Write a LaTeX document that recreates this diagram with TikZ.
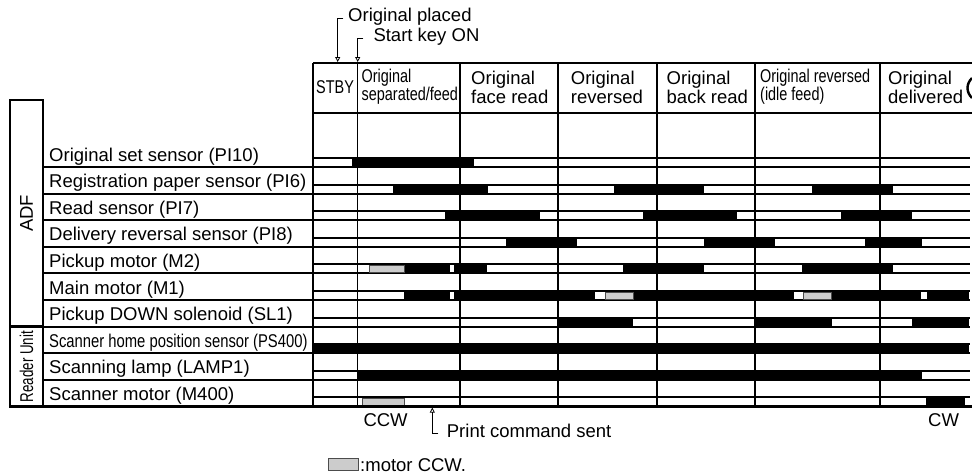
\documentclass[tikz,border=0pt]{standalone}
\usepackage{fontspec}
\setmainfont{Liberation Sans}
\newfontfamily\condfont[FakeStretch=0.78]{Liberation Sans}
\newfontfamily\condlabel[FakeStretch=0.80]{Liberation Sans}
\newfontfamily\condside[FakeStretch=0.72]{Liberation Sans}
\usetikzlibrary{arrows.meta,positioning}
\tikzset{
  frame/.style    = {line width=2.4pt},
  grid/.style     = {line width=1.2pt},
  bandline/.style = {line width=2pt},
  hi/.style       = {fill=black},
  ccw/.style      = {fill=gray!40, draw=gray!60!black, line width=0.6pt},
  lbl/.style      = {anchor=base west, inner sep=0pt, font=\fontsize{18.5}{18}\selectfont},
  hdr/.style      = {anchor=west, inner sep=0pt, align=left, font=\fontsize{18.5}{17}\selectfont},
  chdr/.style     = {hdr, font=\condfont\fontsize{18.5}{17}\selectfont},
  side/.style     = {rotate=90, inner sep=0pt, font=\fontsize{18.5}{18}\selectfont},
  note/.style     = {anchor=base west, inner sep=0pt, font=\fontsize{18.5}{18}\selectfont},
  tick/.style     = {line width=0.8pt, -{Triangle[open,length=5pt,width=5pt]}},
}
\begin{document}
\begin{tikzpicture}[x=1pt,y=-1pt]
  \useasboundingbox (0,0) rectangle (972,475);

  % column lines
  \foreach \x in {357.7,460,558,657,755,880}
    \draw[grid] (\x,63) -- (\x,406.4);

  % signal bands, one per row
  \foreach \k in {1,...,10}{
    \pgfmathsetmacro\yb{167+26.6*(\k-1)}
    \draw[bandline] (313,\yb-9) -- (970,\yb-9);
    \draw[bandline] (43,\yb) -- (970,\yb);
  }
  % ON periods
  \foreach \k/\a/\b in {1/351.7/474,
      2/392.7/487.7, 2/614/704, 2/811.7/892.7,
      3/445/540, 3/642.7/737, 3/840.7/911.7,
      4/506/576.7, 4/704/775, 4/865/922.3,
      5/404/450, 5/454/486.7, 5/623.3/704, 5/801.7/892.7,
      6/404/450, 6/454/595, 6/633.3/794, 6/831/921, 6/926.7/969,
      7/558.3/632.7, 7/755.3/831.7, 7/911.7/969,
      8/313/969, 9/357.3/921.7, 10/926/965}{
    \pgfmathsetmacro\yb{167+26.6*(\k-1)}
    \fill[hi] (\a,\yb-10) rectangle (\b,\yb+1);
  }
  % motor CCW periods
  \foreach \k/\a/\b in {5/369.3/404, 6/605/633.3, 6/803.3/831, 10/362.7/404}{
    \pgfmathsetmacro\yb{167+26.6*(\k-1)}
    \filldraw[ccw] (\a,\yb-8) rectangle (\b,\yb-1);
  }

  % frame
  \draw[frame] (313,63) -- (972,63);
  \draw[frame] (313,113) -- (972,113);
  \draw[frame] (313,63) -- (313,406.4);
  \draw[frame] (10,406.4) -- (972,406.4);
  \draw[frame] (10,100) rectangle (43,326.6);
  \draw[frame] (10,326.6) rectangle (43,406.4);
  \draw[line width=2.4pt] (972,78) .. controls (966,84) and (966,92) .. (972,98);

  % header
  \node[chdr] (hStby) at (316,87) {STBY};
  \node[chdr] (hSep)  at (361.5,87) {Original\\separated/feed};
  \node[hdr]  (hFace) at (471,87.5) {Original\\face read};
  \node[hdr]  (hRev)  at (570.7,87.5) {Original\\reversed};
  \node[hdr]  (hBack) at (666.5,87.5) {Original\\back read};
  \node[chdr] (hIdle) at (760,87) {Original reversed\\(idle feed)};
  \node[hdr]  (hDel)  at (888,87.5) {Original\\delivered};

  % row labels
  \foreach \k/\txt in {1/Original set sensor (PI10),
      2/Registration paper sensor (PI6),
      3/Read sensor (PI7),
      4/Delivery reversal sensor (PI8),
      5/Pickup motor (M2),
      6/Main motor (M1),
      7/Pickup DOWN solenoid (SL1),
      8/{\condlabel Scanner home position sensor (PS400)},
      9/Scanning lamp (LAMP1),
      10/Scanner motor (M400)}{
    \node[lbl] (l\k) at (49,{161+26.6*(\k-1)}) {\txt};
  }
  \node[side] (adf) at (26.5,213.3) {ADF};
  \node[side, font=\condside\fontsize{18.5}{18}\selectfont] (reader) at (26.5,366.5) {Reader Unit};

  % events
  \node[note] (tPlaced) at (348,21.5) {Original placed};
  \node[note] (tStart)  at (373.3,41.5) {Start key ON};
  \coordinate (placedKnee) at (343.3,18.3);
  \coordinate (placedTip)  at (337.7,62);
  \coordinate (startKnee)  at (363.3,38.3);
  \coordinate (startTip)   at (357.7,62);
  \draw[tick] (placedKnee) -| (placedTip);
  \draw[tick] (startKnee) -| (startTip);

  \node[note] (tPrint) at (446.7,437) {Print command sent};
  \coordinate (printKnee) at (438.3,433.3);
  \coordinate (printTip)  at (432.3,407.6);
  \draw[tick] (printKnee) -| (printTip);

  \node[note] (tCcw) at (363.3,426.5) {CCW};
  \node[note] (tCw)  at (928,426.5) {CW};

  % legend
  \filldraw[ccw] (328.3,458.5) rectangle (358.3,470);
  \node[note] (tLegend) at (360,471) {:motor CCW.};
\end{tikzpicture}
\end{document}
